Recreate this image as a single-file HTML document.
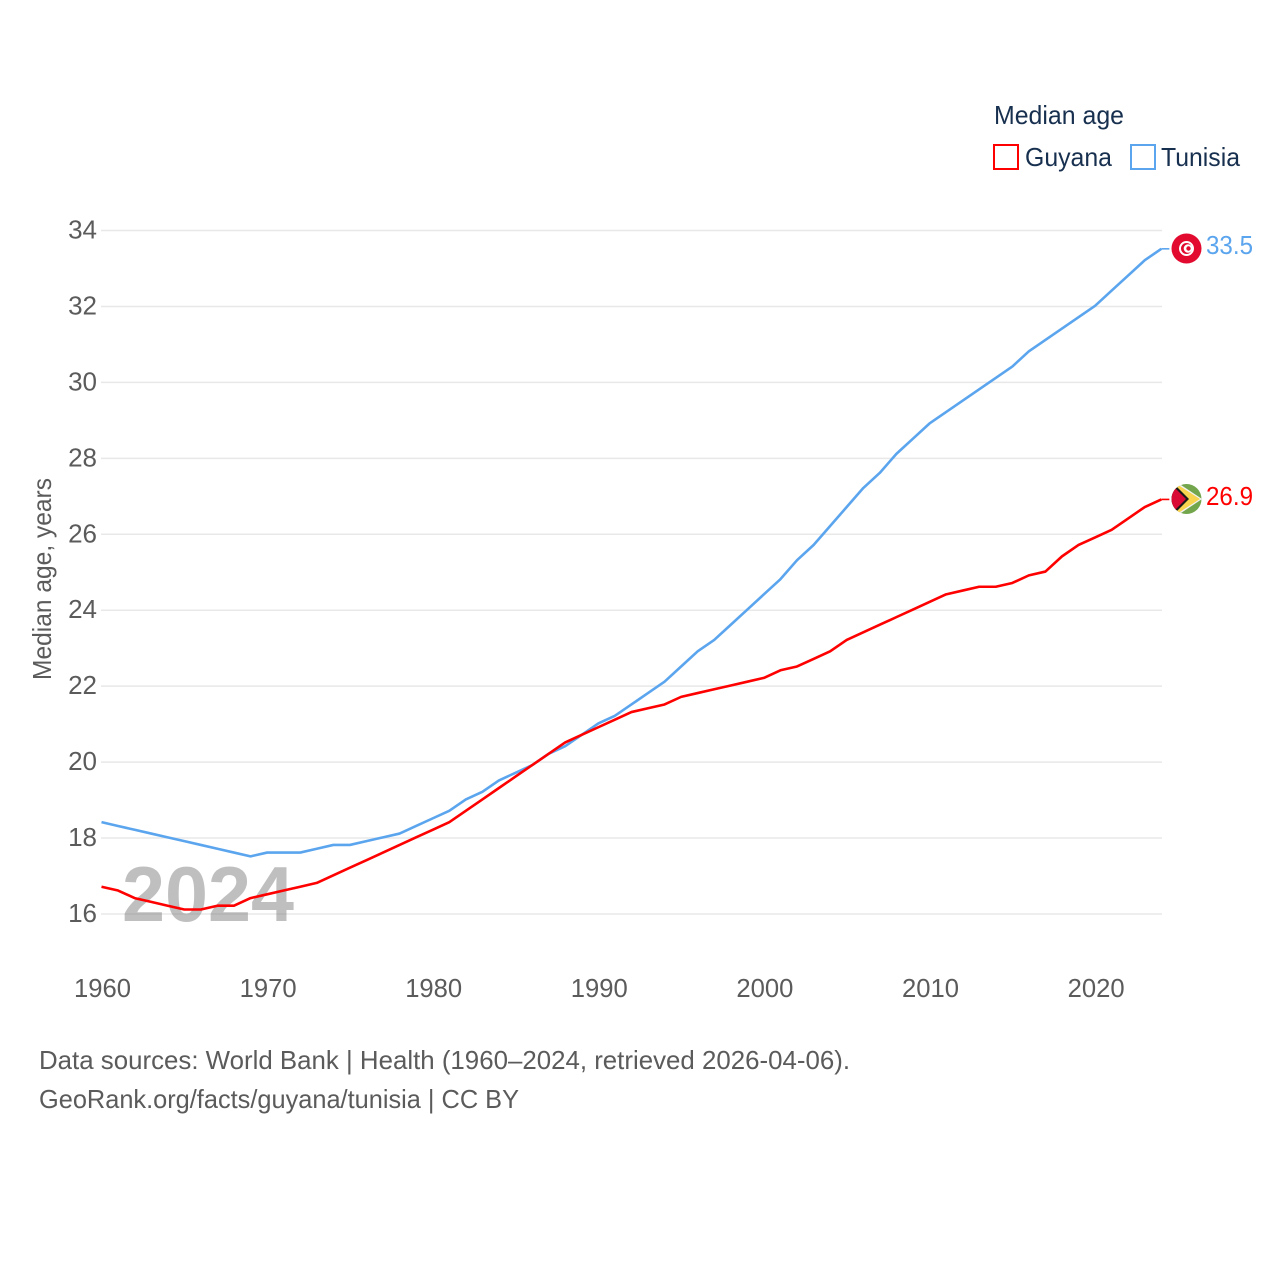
<!DOCTYPE html>
<html lang="en">
<head>
<meta charset="utf-8">
<title>Median age: Guyana and Tunisia</title>
<style>
html,body{margin:0;padding:0;background:#fff;width:1280px;height:1280px;overflow:hidden}
svg{display:block}
text{font-family:"Liberation Sans",sans-serif;font-size:26px}
</style>
</head>
<body>
<svg id="chart" width="1280" height="1280" viewBox="0 0 1280 1280" xmlns="http://www.w3.org/2000/svg">
  <defs>
    <clipPath id="clip-tn"><circle id="clip-tn-circle" cx="1186.5" cy="248.5" r="15"/></clipPath>
    <clipPath id="clip-gy"><circle id="clip-gy-circle" cx="1186.5" cy="499" r="15"/></clipPath>
  </defs>
  <rect width="1280" height="1280" fill="#fff"/>

  <g id="grid"></g>
  <text x="122" y="921" textLength="172" lengthAdjust="spacingAndGlyphs" style="font-size:78px;font-weight:bold" fill="#808080" fill-opacity="0.5">2024</text>
  <g id="y-ticks"></g>
  <g id="x-ticks"></g>
  <text transform="translate(51,680) rotate(-90)" x="0" y="0" textLength="202" lengthAdjust="spacingAndGlyphs" fill="#5b5b5b">Median age, years</text>
  <g id="series"></g>

  <g id="flag-tunisia">
    <g clip-path="url(#clip-tn)">
      <rect x="1170" y="232" width="33" height="33" fill="#e20a2f"/>
      <circle cx="1186.5" cy="248.5" r="7.5" fill="#fff"/>
      <circle cx="1186.5" cy="248.5" r="5.5" fill="#e20a2f"/>
      <circle cx="1188" cy="248.5" r="4.3" fill="#fff"/>
      <circle cx="1188.5" cy="248.5" r="2.2" fill="#e20a2f"/>
    </g>
  </g>
  <g id="flag-guyana">
    <g clip-path="url(#clip-gy)">
      <rect x="1170" y="482" width="33" height="34" fill="#73a64c"/>
      <polygon points="1172,479 1202,499 1172,519" fill="#f2f2f2"/>
      <polygon points="1172,481 1200,499 1172,517" fill="#f9d44e"/>
      <polygon points="1171,481 1189,499 1171,517" fill="#1a1a1a"/>
      <polygon points="1171,484 1186,499 1171,514" fill="#d90b35"/>
    </g>
  </g>

  <text id="label-tunisia" x="1206" y="254" textLength="47" lengthAdjust="spacingAndGlyphs" fill="#5ba5ee">33.5</text>
  <text id="label-guyana" x="1206" y="505" textLength="47" lengthAdjust="spacingAndGlyphs" fill="#ff0000">26.9</text>

  <g>
    <text x="994" y="124" textLength="130" lengthAdjust="spacingAndGlyphs" fill="#18304f">Median age</text>
    <g>
      <rect x="994" y="145" width="24" height="24" fill="#fff" stroke="#ff0000" stroke-width="2"/>
      <text x="1025" y="166" textLength="87" lengthAdjust="spacingAndGlyphs" fill="#18304f">Guyana</text>
    </g>
    <g>
      <rect x="1131" y="145" width="24" height="24" fill="#fff" stroke="#5ba5ee" stroke-width="2"/>
      <text x="1161" y="166" textLength="79" lengthAdjust="spacingAndGlyphs" fill="#18304f">Tunisia</text>
    </g>
  </g>

  <text x="39" y="1069" textLength="811" lengthAdjust="spacingAndGlyphs" fill="#5b5b5b">Data sources: World Bank | Health (1960–2024, retrieved 2026-04-06).</text>
  <a><text x="39" y="1108" textLength="480" lengthAdjust="spacingAndGlyphs" fill="#5b5b5b">GeoRank.org/facts/guyana/tunisia | CC BY</text></a>
</svg>

<script>
const startYear = 1960;
const yTickValues = [16, 18, 20, 22, 24, 26, 28, 30, 32, 34];
const xTickYears = [1960, 1970, 1980, 1990, 2000, 2010, 2020];
const tunisiaValues = [18.4,18.3,18.2,18.1,18.0,17.9,17.8,17.7,17.6,17.5,17.6,17.6,17.6,17.7,17.8,17.8,17.9,18.0,18.1,18.3,18.5,18.7,19.0,19.2,19.5,19.7,19.9,20.2,20.4,20.7,21.0,21.2,21.5,21.8,22.1,22.5,22.9,23.2,23.6,24.0,24.4,24.8,25.3,25.7,26.2,26.7,27.2,27.6,28.1,28.5,28.9,29.2,29.5,29.8,30.1,30.4,30.8,31.1,31.4,31.7,32.0,32.4,32.8,33.2,33.5];
const guyanaValues = [16.7,16.6,16.4,16.3,16.2,16.1,16.1,16.2,16.2,16.4,16.5,16.6,16.7,16.8,17.0,17.2,17.4,17.6,17.8,18.0,18.2,18.4,18.7,19.0,19.3,19.6,19.9,20.2,20.5,20.7,20.9,21.1,21.3,21.4,21.5,21.7,21.8,21.9,22.0,22.1,22.2,22.4,22.5,22.7,22.9,23.2,23.4,23.6,23.8,24.0,24.2,24.4,24.5,24.6,24.6,24.7,24.9,25.0,25.4,25.7,25.9,26.1,26.4,26.7,26.9];

const NS = 'http://www.w3.org/2000/svg';
const xScale = function (year) { return 101.5 + (year - 1960) * 16.56; };
const yScale = function (value) { return 914 - (value - 16) * 37.97; };
const lineOffsetY = -0.7;

const gridGroup = document.getElementById('grid');
const yTickGroup = document.getElementById('y-ticks');
const xTickGroup = document.getElementById('x-ticks');
const seriesGroup = document.getElementById('series');

yTickValues.forEach(function (v) {
  const line = document.createElementNS(NS, 'line');
  
  
  line.setAttribute('x1', 101);
  line.setAttribute('x2', 1162);
  line.setAttribute('y1', yScale(v));
  line.setAttribute('y2', yScale(v));
  line.setAttribute('stroke', '#e8e8e8');
  line.setAttribute('stroke-width', '1.5');
  gridGroup.appendChild(line);

  const label = document.createElementNS(NS, 'text');
  
  
  label.setAttribute('x', 97);
  label.setAttribute('y', yScale(v) + 8);
  label.setAttribute('text-anchor', 'end');
  label.setAttribute('fill', '#5b5b5b');
  label.textContent = String(v);
  yTickGroup.appendChild(label);
});

xTickYears.forEach(function (year) {
  const label = document.createElementNS(NS, 'text');
  
  
  label.setAttribute('x', xScale(year) + 1);
  label.setAttribute('y', 997);
  label.setAttribute('text-anchor', 'middle');
  label.setAttribute('textLength', 57);
  label.setAttribute('lengthAdjust', 'spacingAndGlyphs');
  label.setAttribute('fill', '#5b5b5b');
  label.textContent = String(year);
  xTickGroup.appendChild(label);
});

function linePath(values) {
  const cmds = values.map(function (v, i) {
    return (i === 0 ? 'M' : 'L') + xScale(startYear + i).toFixed(2) + ' ' + (yScale(v) + lineOffsetY).toFixed(2);
  });
  return cmds.join(' ');
}

function connectorPath(values) {
  const last = values.length - 1;
  const px = xScale(startYear + last);
  const py = yScale(values[last]) + lineOffsetY;
  return 'M' + px.toFixed(2) + ' ' + py.toFixed(2) + ' L' + (px + 8).toFixed(2) + ' ' + py.toFixed(2);
}

const tunisiaLine = document.createElementNS(NS, 'path');


tunisiaLine.setAttribute('d', linePath(tunisiaValues));
tunisiaLine.setAttribute('fill', 'none');
tunisiaLine.setAttribute('stroke', '#5ba5ee');
tunisiaLine.setAttribute('stroke-width', '2.6');
tunisiaLine.setAttribute('stroke-linejoin', 'round');
seriesGroup.appendChild(tunisiaLine);

const tunisiaConnector = document.createElementNS(NS, 'path');


tunisiaConnector.setAttribute('d', connectorPath(tunisiaValues));
tunisiaConnector.setAttribute('fill', 'none');
tunisiaConnector.setAttribute('stroke', '#5ba5ee');
tunisiaConnector.setAttribute('stroke-width', '1.6');
seriesGroup.appendChild(tunisiaConnector);

const guyanaLine = document.createElementNS(NS, 'path');


guyanaLine.setAttribute('d', linePath(guyanaValues));
guyanaLine.setAttribute('fill', 'none');
guyanaLine.setAttribute('stroke', '#ff0000');
guyanaLine.setAttribute('stroke-width', '2.6');
guyanaLine.setAttribute('stroke-linejoin', 'round');
seriesGroup.appendChild(guyanaLine);

const guyanaConnector = document.createElementNS(NS, 'path');


guyanaConnector.setAttribute('d', connectorPath(guyanaValues));
guyanaConnector.setAttribute('fill', 'none');
guyanaConnector.setAttribute('stroke', '#ff0000');
guyanaConnector.setAttribute('stroke-width', '1.6');
seriesGroup.appendChild(guyanaConnector);
</script>
</body>
</html>
